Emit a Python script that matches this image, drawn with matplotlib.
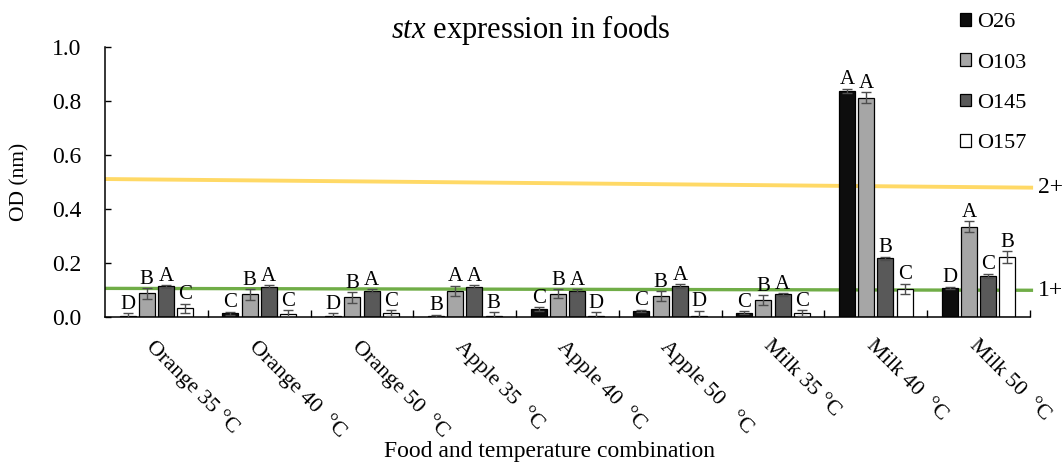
import matplotlib
matplotlib.use("Agg")
import matplotlib.pyplot as plt
from matplotlib.patches import Patch
import numpy as np

plt.rcParams["font.family"] = ["Liberation Serif", "DejaVu Serif"]
plt.rcParams["mathtext.fontset"] = "custom"
plt.rcParams["mathtext.rm"] = "Liberation Serif"
plt.rcParams["mathtext.it"] = "Liberation Serif:italic"

# ---- data -------------------------------------------------------------
categories = ["Orange 35 °C", "Orange 40  °C", "Orange 50  °C",
              "Apple 35  °C", "Apple 40  °C", "Apple 50   °C",
              "Milk 35 °C", "Milk 40  °C", "Milk 50  °C"]
series = ["O26", "O103", "O145", "O157"]

o26 = [0.003, 0.014, 0.005, 0.004, 0.030, 0.022, 0.016, 0.838, 0.107]
o103 = [0.088, 0.084, 0.073, 0.096, 0.087, 0.077, 0.063, 0.812, 0.334]
o145 = [0.113, 0.112, 0.097, 0.112, 0.097, 0.115, 0.084, 0.217, 0.153]
o157 = [0.032, 0.011, 0.014, 0.003, 0.003, 0.005, 0.014, 0.104, 0.221]

e26 = [0.010, 0.006, 0.008, 0.005, 0.006, 0.005, 0.006, 0.008, 0.005]
e103 = [0.020, 0.020, 0.020, 0.020, 0.015, 0.018, 0.018, 0.020, 0.020]
e145 = [0.006, 0.006, 0.005, 0.006, 0.005, 0.006, 0.005, 0.007, 0.008]
e157 = [0.018, 0.015, 0.012, 0.015, 0.015, 0.018, 0.012, 0.020, 0.022]

l26 = ["D", "C", "D", "B", "C", "C", "C", "A", "D"]
l103 = ["B", "B", "B", "A", "B", "B", "B", "A", "A"]
l145 = ["A", "A", "A", "A", "A", "A", "A", "B", "C"]
l157 = ["C", "C", "C", "B", "D", "D", "C", "C", "B"]

# threshold lines (start / end values) and their labels
thr_2plus = [0.511, 0.479]
thr_1plus = [0.106, 0.099]
thr_labels = ["2+", "1+"]

yticks = [0.0, 0.2, 0.4, 0.6, 0.8, 1.0]

# ---- figure -----------------------------------------------------------
fig = plt.figure(figsize=(10.62, 4.66), dpi=100)
ax = fig.add_axes([105 / 1062, 1 - 317 / 466, (1030 - 105) / 1062, 270 / 466])

values = [o26, o103, o145, o157]
errors = [e26, e103, e145, e157]
letters = [l26, l103, l145, l157]
colors = ["#0d0d0d", "#a6a6a6", "#595959", "#ffffff"]

x = np.arange(len(categories)) + 0.5
step = 0.187
width = 0.155
offsets = (np.arange(4) - 1.5) * step

# threshold lines, drawn behind the bars
xl = [0.0, 9.03]
ax.plot(xl, thr_2plus, color="#ffd966", lw=2.8, zorder=1, clip_on=False,
        solid_capstyle="butt")
ax.plot(xl, thr_1plus, color="#70ad47", lw=2.4, zorder=1, clip_on=False,
        solid_capstyle="butt")
ax.text(9.08, thr_2plus[1], thr_labels[0], fontsize=17, ha="left", va="center")
ax.text(9.08, thr_1plus[1], thr_labels[1], fontsize=17, ha="left", va="center")

for vals, errs, labs, col, off in zip(values, errors, letters, colors, offsets):
    xs = x + off
    ax.bar(xs, vals, width=width, color=col, edgecolor="black", linewidth=0.9,
           zorder=2)
    ax.errorbar(xs, vals, yerr=errs, fmt="none", ecolor="#4d4d4d", elinewidth=1,
                capsize=3.6, capthick=1, zorder=3)
    for xi, v, e, t in zip(xs, vals, errs, labs):
        ax.annotate(t, (xi, v + e), xytext=(0, -0.5), textcoords="offset points",
                    ha="center", va="bottom", fontsize=15, zorder=4)

ax.set_xlim(0, 9)
ax.set_ylim(0, 1.0)
ax.set_yticks(yticks)
ax.set_yticklabels([f"{t:.1f}" for t in yticks], fontsize=17)
ax.tick_params(axis="y", direction="in", length=4, width=1, pad=17)

ax.set_xticks(x)
ax.set_xticklabels(categories, rotation=-45, ha="left", va="top",
                   rotation_mode="anchor", fontsize=16)
ax.set_xticks(np.arange(1, 10), minor=True)
ax.tick_params(axis="x", which="major", length=0, pad=14)
ax.tick_params(axis="x", which="minor", direction="in", length=5, width=1)

for side in ("top", "right"):
    ax.spines[side].set_visible(False)
for side in ("left", "bottom"):
    ax.spines[side].set_linewidth(1.1)

ax.set_ylabel("OD (nm)", fontsize=15.5)
ax.yaxis.set_label_coords(-76 / 925, 0.5)

fig.text(531 / 1062, 1 - 30 / 466, r"$\mathit{stx}$ expression in foods",
         fontsize=22, ha="center", va="center")
fig.text(550 / 1062, 1 - 451 / 466, "Food and temperature combination",
         fontsize=17, ha="center", va="center")

handles = [Patch(facecolor=c, edgecolor="black", linewidth=0.9) for c in colors]
fig.legend(handles, series, loc="upper left",
           bbox_to_anchor=(960 / 1062, 1 - 13 / 466), frameon=False,
           fontsize=16, handlelength=0.5, handleheight=0.5,
           handletextpad=0.25, labelspacing=0.95, borderpad=0,
           borderaxespad=0)

fig.savefig("out.png", dpi=100)
